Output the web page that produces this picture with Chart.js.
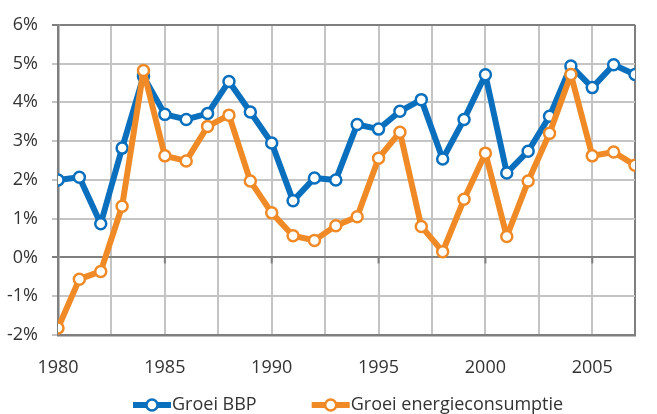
<!DOCTYPE html>
<html lang="nl">
<head>
<meta charset="UTF-8">
<script src="https://cdn.jsdelivr.net/npm/chart.js@4.4.1/dist/chart.umd.min.js"></script>
<title>Groei BBP en energieconsumptie</title>
<style>
  html, body { margin: 0; padding: 0; background: #fff; }
  #wrap { width: 657px; height: 414px; }
</style>
</head>
<body>
<div id="wrap"><canvas id="myChart" width="657" height="414"></canvas></div>
<script>
const years = [1980, 1981, 1982, 1983, 1984, 1985, 1986, 1987, 1988, 1989,
  1990, 1991, 1992, 1993, 1994, 1995, 1996, 1997, 1998, 1999,
  2000, 2001, 2002, 2003, 2004, 2005, 2006, 2007];
const bbp = [2.0, 2.07, 0.87, 2.82, 4.67, 3.69, 3.56, 3.71, 4.54, 3.75,
  2.95, 1.46, 2.05, 2.0, 3.43, 3.31, 3.77, 4.07, 2.54, 3.56,
  4.71, 2.18, 2.74, 3.64, 4.94, 4.38, 4.97, 4.72];
const energie = [-1.82, -0.56, -0.36, 1.32, 4.82, 2.62, 2.49, 3.38, 3.67, 1.97,
  1.15, 0.56, 0.44, 0.82, 1.05, 2.56, 3.23, 0.8, 0.15, 1.5,
  2.69, 0.54, 1.97, 3.2, 4.72, 2.62, 2.72, 2.38];
const seriesNames = ['Groei BBP', 'Groei energieconsumptie'];
const xLabels = [1980, 1985, 1990, 1995, 2000, 2005];
// vertical grid every 2.5 years, plus the right edge
const xGrid = [1980, 1982.5, 1985, 1987.5, 1990, 1992.5, 1995, 1997.5,
  2000, 2002.5, 2005, 2007];

const BLUE = '#0a6fbd';
const ORANGE = '#f08a26';
const GRID = '#c4c4c4';
const DARK = '#7f7f7f';
const FONT = 'Open Sans';

function toPoints(vals) {
  return years.map((y, i) => ({ x: y, y: vals[i] }));
}

function lineDataset(label, vals, color, order) {
  return {
    label: label,
    data: toPoints(vals),
    order: order,
    borderColor: color,
    backgroundColor: '#fff',
    borderWidth: 6,
    pointRadius: 5.5,
    pointBorderWidth: 2.5,
    pointBackgroundColor: '#fff',
    pointBorderColor: color,
    borderJoinStyle: 'round',
    borderCapStyle: 'round',
    tension: 0
  };
}

// dark ticks on the 0% line and a hand drawn legend
const extras = {
  id: 'extras',
  afterDatasetsDraw(chart) {
    const ctx = chart.ctx;
    const xs = chart.scales.x, ys = chart.scales.y;
    const y0 = ys.getPixelForValue(0);
    ctx.save();
    ctx.strokeStyle = DARK;
    ctx.lineWidth = 2;
    xLabels.slice(1).forEach((yr) => {
      const px = xs.getPixelForValue(yr);
      ctx.beginPath();
      ctx.moveTo(px, y0);
      ctx.lineTo(px, y0 + 6);
      ctx.stroke();
    });
    ctx.restore();
  },
  afterDraw(chart) {
    const ctx = chart.ctx;
    ctx.save();
    ctx.font = '18px "' + FONT + '"';
    ctx.textBaseline = 'middle';
    const yc = 405;
    let x = 133;
    chart.data.datasets.forEach((ds) => {
      ctx.strokeStyle = ds.borderColor;
      ctx.lineWidth = 6;
      ctx.beginPath();
      ctx.moveTo(x, yc);
      ctx.lineTo(x + 38, yc);
      ctx.stroke();
      ctx.beginPath();
      ctx.arc(x + 19, yc, 5.5, 0, Math.PI * 2);
      ctx.fillStyle = '#fff';
      ctx.fill();
      ctx.lineWidth = 2.5;
      ctx.stroke();
      ctx.fillStyle = '#333';
      ctx.fillText(ds.label, x + 39, yc);
      x += 39 + ctx.measureText(ds.label).width + 55;
    });
    ctx.restore();
  }
};

const ctx = document.getElementById('myChart').getContext('2d');
new Chart(ctx, {
  type: 'line',
  data: {
    datasets: [
      lineDataset(seriesNames[0], bbp, BLUE, 1),
      lineDataset(seriesNames[1], energie, ORANGE, 0)
    ]
  },
  options: {
    responsive: false,
    animation: false,
    layout: { padding: { top: 23, right: 2, left: 0, bottom: 0 } },
    plugins: { legend: { display: false }, tooltip: { enabled: false } },
    scales: {
      x: {
        type: 'linear',
        min: 1980,
        max: 2007,
        afterFit: (s) => { s.height = 79; },
        afterBuildTicks: (s) => { s.ticks = xGrid.map((v) => ({ value: v })); },
        ticks: {
          autoSkip: false,
          maxRotation: 0,
          padding: 22,
          color: '#333',
          font: { family: FONT, size: 18 },
          callback: (v) => (xLabels.includes(v) ? String(v) : '')
        },
        grid: {
          drawTicks: false,
          lineWidth: 2,
          color: (c) => (c.tick && c.tick.value === 2007 ? DARK : GRID)
        },
        border: { color: DARK, width: 2.5 }
      },
      y: {
        min: -2,
        max: 6,
        afterFit: (s) => { s.width = 58; },
        ticks: {
          stepSize: 1,
          padding: 14,
          color: '#333',
          font: { family: FONT, size: 18 },
          callback: (v) => v + '%'
        },
        grid: {
          tickLength: 6,
          lineWidth: 2,
          color: (c) => (c.tick && (c.tick.value === 0 || c.tick.value === 6) ? DARK : GRID)
        },
        border: { color: DARK, width: 2.5 }
      }
    }
  },
  plugins: [extras]
});
</script>
</body>
</html>
